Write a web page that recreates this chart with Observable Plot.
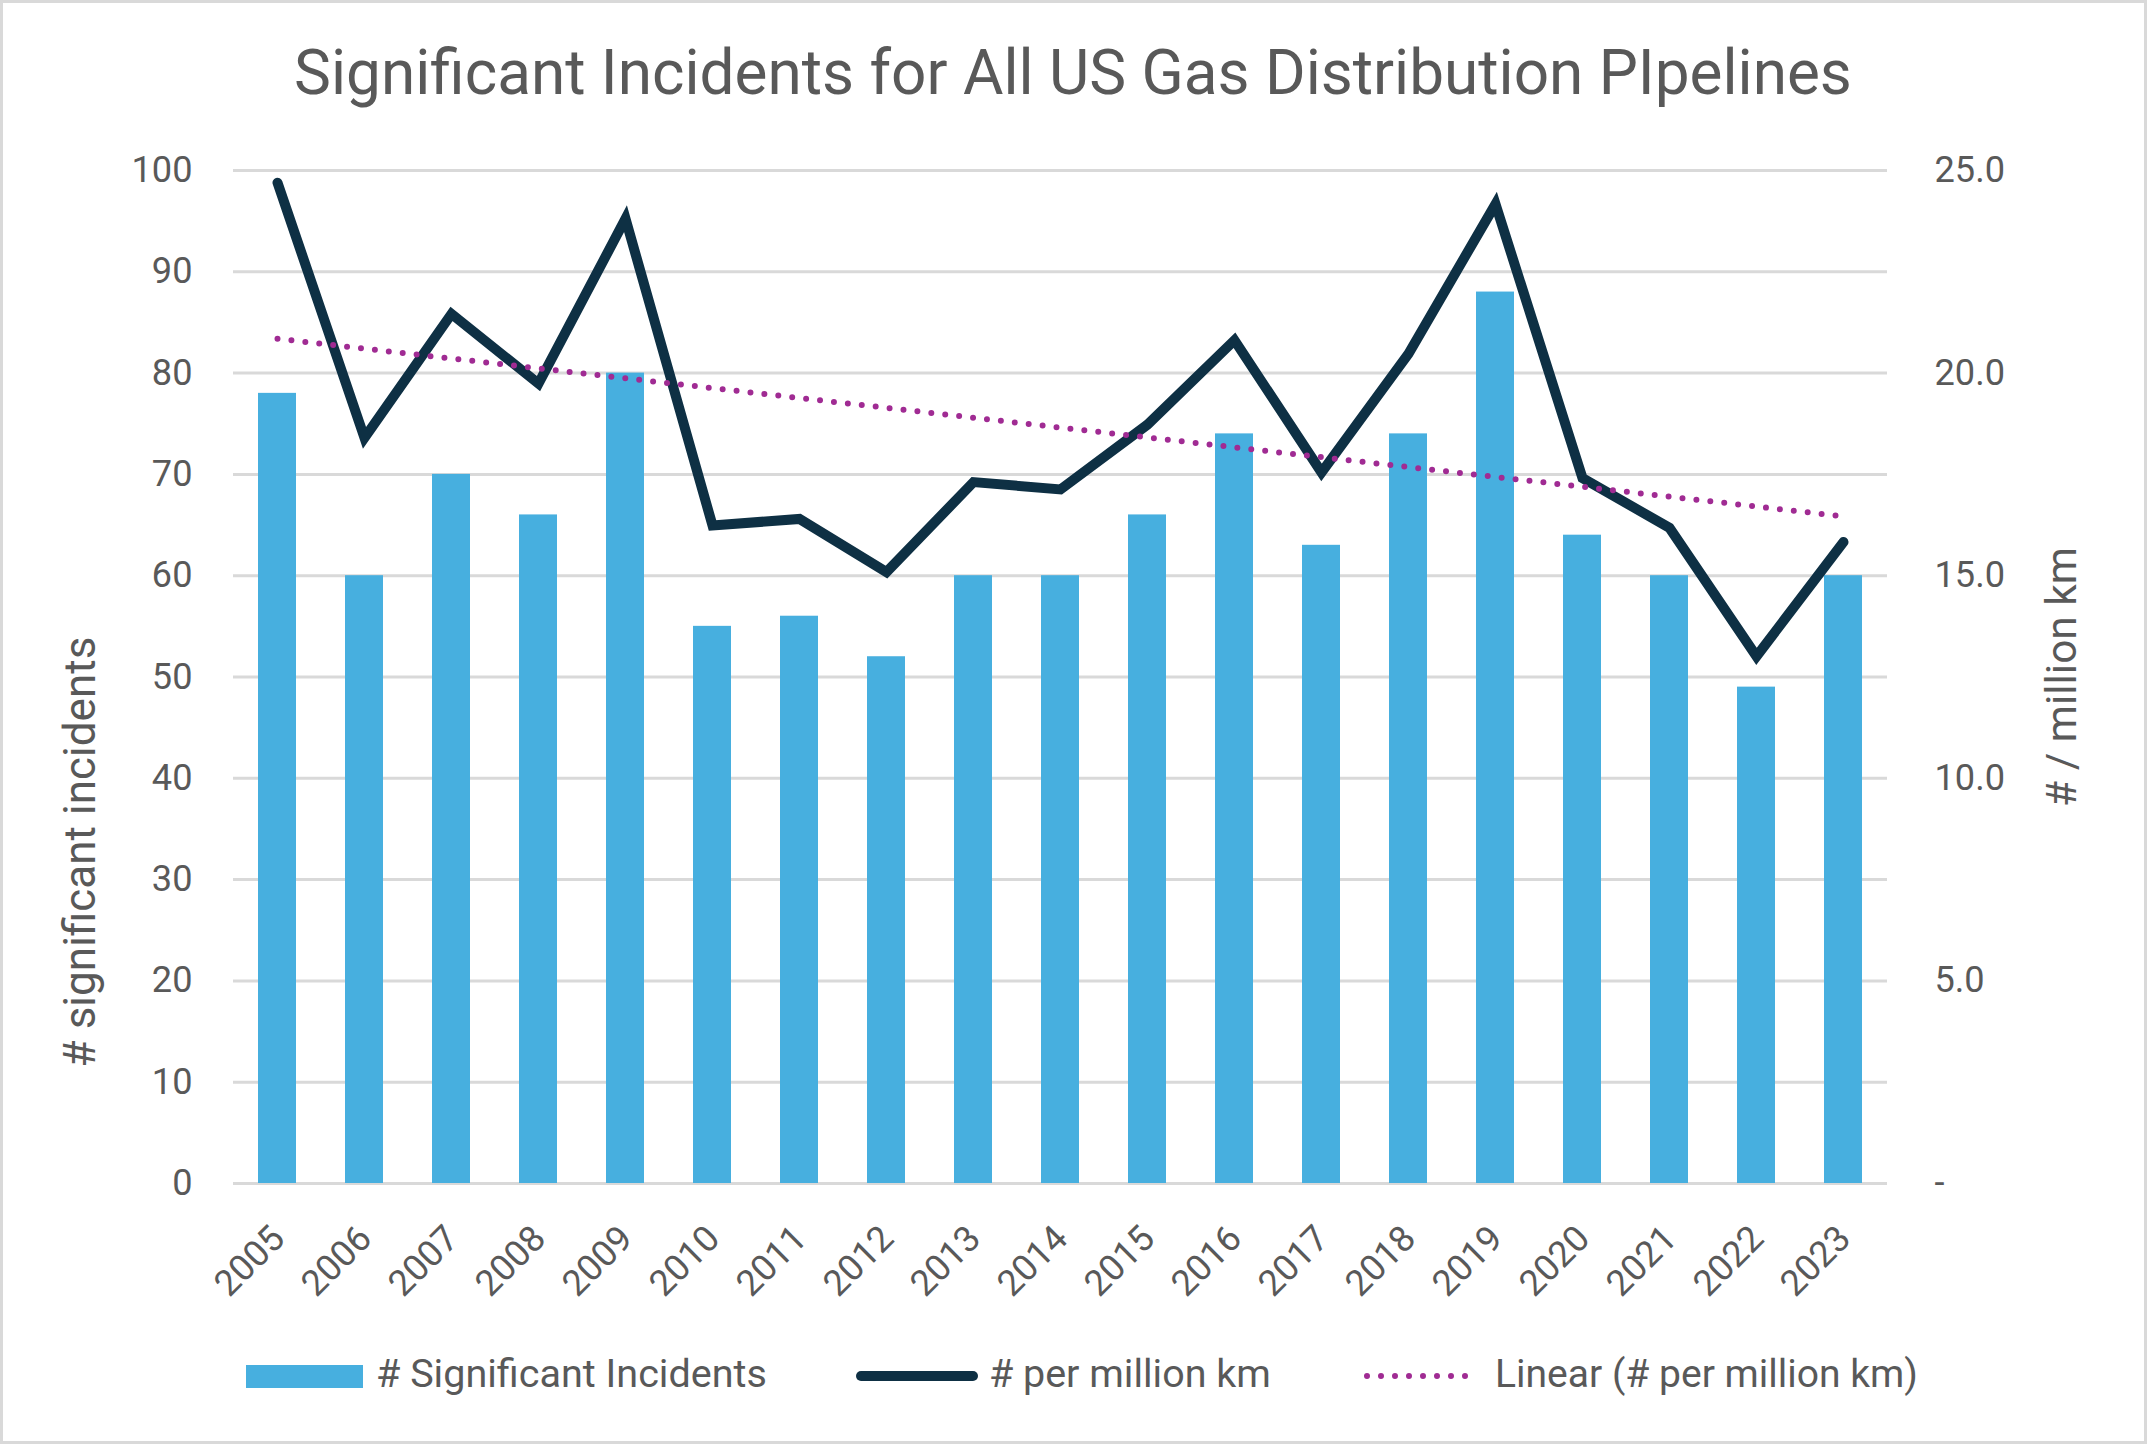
<!DOCTYPE html>
<html>
<head>
<meta charset="utf-8">
<script src="https://cdn.jsdelivr.net/npm/d3@7"></script>
<script src="https://cdn.jsdelivr.net/npm/@observablehq/plot@0.6"></script>
<style>
  html, body { margin: 0; padding: 0; background: #ffffff; overflow: hidden; }
  #chart { position: relative; width: 2147px; height: 1444px; background: #ffffff; }
  #chart svg { position: absolute; left: 0; top: 0; }
</style>
</head>
<body>
<div id="chart"></div>
<script>
// ---------------- data ----------------
const years = [2005, 2006, 2007, 2008, 2009, 2010, 2011, 2012, 2013, 2014, 2015, 2016, 2017, 2018, 2019, 2020, 2021, 2022, 2023];
const significantIncidents = [78, 60, 70, 66, 80, 55, 56, 52, 60, 60, 66, 74, 63, 74, 88, 64, 60, 49, 60];
const perMillionKm = [24.70, 18.40, 21.46, 19.74, 23.81, 16.24, 16.40, 15.09, 17.31, 17.13, 18.73, 20.81, 17.55, 20.48, 24.17, 17.41, 16.18, 13.01, 15.83];
const leftTicks = [0, 10, 20, 30, 40, 50, 60, 70, 80, 90, 100];
const rightTicks = [0, 5, 10, 15, 20, 25];
const leftMax = 100;
const rightMax = 25;

const titleText = "Significant Incidents for All US Gas Distribution PIpelines";
const leftAxisTitle = "# significant incidents";
const rightAxisTitle = "# / million km";
const legendLabels = ["# Significant Incidents", "# per million km", "Linear (# per million km)"];

// ---------------- style ----------------
const FONT = "Roboto";
const TEXT = "#595959";
const BAR = "#47afdf";
const LINE = "#0e3044";
const TREND = "#a02b93";
const GRID = "#d9d9d9";

const ratio = leftMax / rightMax;
const rows = years.map((year, i) => ({year, incidents: significantIncidents[i], rate: perMillionKm[i]}));

const ctx = document.createElement("canvas").getContext("2d");
function fit(text, width) {
  ctx.font = `100px ${FONT}`;
  return 100 * width / ctx.measureText(text).width;
}
const tickSize = fit("100", 61);

const W = 2147, H = 1444;
const frameL = 233, frameR = 1887, frameT = 170, frameB = 1183;

const chart = Plot.plot({
  width: W,
  height: H,
  marginLeft: frameL,
  marginRight: W - frameR,
  marginTop: frameT,
  marginBottom: H - frameB,
  style: {fontFamily: FONT, fontSize: `${tickSize}px`, color: TEXT, background: "transparent", overflow: "visible"},
  x: {type: "band", domain: years, paddingInner: 0.563, paddingOuter: 0.287, align: 0.5},
  y: {domain: [0, leftMax]},
  marks: [
    Plot.gridY(leftTicks, {stroke: GRID, strokeOpacity: 1, strokeWidth: 3}),
    Plot.barY(rows, {x: "year", y: "incidents", fill: BAR}),
    Plot.line(rows, {x: "year", y: d => d.rate * ratio, stroke: LINE, strokeWidth: 10, strokeLinejoin: "miter", strokeMiterlimit: 10, strokeLinecap: "round"}),
    Plot.linearRegressionY(rows, {x: "year", y: d => d.rate * ratio, ci: 0, stroke: TREND, strokeWidth: 6, strokeDasharray: "0 14", strokeLinecap: "round"}),
    Plot.axisY(leftTicks, {anchor: "left", tickSize: 0, tickPadding: 41, tickFormat: d => String(d), label: null}),
    Plot.axisY(rightTicks.map(v => v * ratio), {anchor: "right", tickSize: 0, tickPadding: 47, tickFormat: v => v === 0 ? "-" : d3.format(".1f")(v / ratio), label: null}),
    Plot.axisX(years, {anchor: "bottom", tickSize: 0, tickPadding: 49, tickRotate: -45, textAnchor: "end", lineAnchor: "middle", dx: 1, tickFormat: d => String(d), label: null})
  ]
});
document.getElementById("chart").appendChild(chart);

// ---------------- title, axis titles, legend ----------------
const overlay = d3.select("#chart").append("svg")
  .attr("width", W).attr("height", H)
  .style("pointer-events", "none")
  .attr("font-family", FONT)
  .attr("fill", TEXT);

overlay.append("rect")
  .attr("x", 1.5).attr("y", 1.5).attr("width", W - 3).attr("height", H - 3)
  .attr("fill", "none").attr("stroke", GRID).attr("stroke-width", 3);

overlay.append("text")
  .attr("x", 1073).attr("y", 94)
  .attr("text-anchor", "middle")
  .attr("font-size", fit(titleText, 1558))
  .text(titleText);

overlay.append("text")
  .attr("transform", "translate(95,852) rotate(-90)")
  .attr("text-anchor", "middle")
  .attr("font-size", fit(leftAxisTitle, 431))
  .text(leftAxisTitle);

overlay.append("text")
  .attr("transform", "translate(2076,677) rotate(-90)")
  .attr("text-anchor", "middle")
  .attr("font-size", fit(rightAxisTitle, 260))
  .text(rightAxisTitle);

// legend
const legY = 1376;
overlay.append("rect").attr("x", 246).attr("y", 1365).attr("width", 117).attr("height", 23).attr("fill", BAR);
overlay.append("line").attr("x1", 861).attr("x2", 973).attr("y1", legY).attr("y2", legY)
  .attr("stroke", LINE).attr("stroke-width", 10).attr("stroke-linecap", "round");
overlay.append("line").attr("x1", 1367).attr("x2", 1479).attr("y1", legY).attr("y2", legY)
  .attr("stroke", TREND).attr("stroke-width", 6).attr("stroke-linecap", "round").attr("stroke-dasharray", "0 14");

const legX = [376, 989, 1495];
const legW = [391, 282, 423];
legendLabels.forEach((t, i) => {
  overlay.append("text").attr("x", legX[i]).attr("y", 1387)
    .attr("font-size", fit(t, legW[i]))
    .text(t);
});
</script>
</body>
</html>
